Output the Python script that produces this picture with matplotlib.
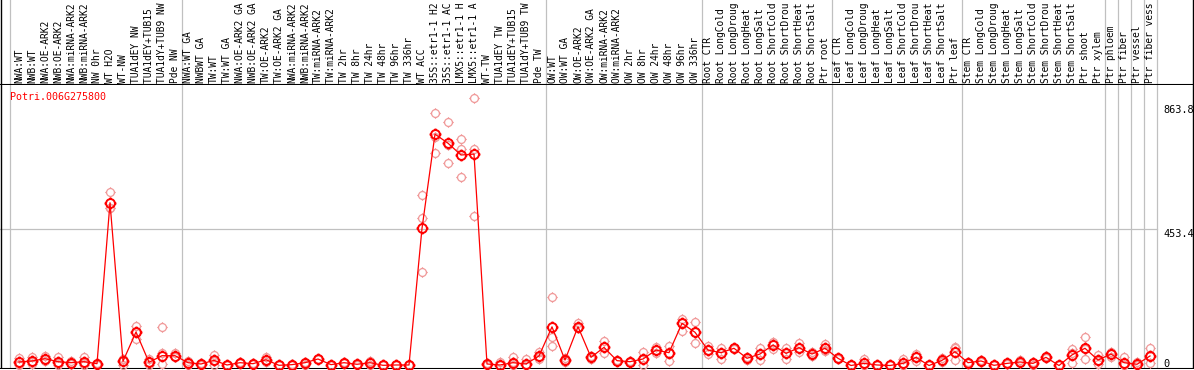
import numpy as np
import matplotlib.pyplot as plt
from matplotlib.path import Path

gene = 'Potri.006G275800'

samples = ['NWA:WT', 'NWB:WT', 'NWA:OE-ARK2', 'NWB:OE-ARK2', 'NWA:miRNA-ARK2',
           'NWB:miRNA-ARK2', 'NW 0hr', 'WT H2O', 'WT-NW', 'TUA1dEY NW',
           'TUA1dEY+TUB15 NW', 'TUA1dY+TUB9 NW', 'Pde NW',
           'NWA:WT GA', 'NWBWT GA', 'TW:WT', 'TW:WT GA', 'NWA:OE-ARK2 GA',
           'NWB:OE-ARK2 GA', 'TW:OE-ARK2', 'TW:OE-ARK2 GA', 'NWA:miRNA-ARK2 GA',
           'NWB:miRNA-ARK2 GA', 'TW:miRNA-ARK2', 'TW:miRNA-ARK2 GA', 'TW 2hr',
           'TW 8hr', 'TW 24hr', 'TW 48hr', 'TW 96hr', 'TW 336hr', 'WT ACC',
           '35S::etr1-1 H2O', '35S::etr1-1 ACC', 'LMX5::etr1-1 H2O',
           'LMX5::etr1-1 ACC', 'WT-TW', 'TUA1dEY TW', 'TUA1dEY+TUB15 TW',
           'TUA1dY+TUB9 TW', 'Pde TW',
           'OW:WT', 'OW:WT GA', 'OW:OE-ARK2', 'OW:OE-ARK2 GA', 'OW:miRNA-ARK2',
           'OW:miRNA-ARK2 GA', 'OW 2hr', 'OW 8hr', 'OW 24hr', 'OW 48hr',
           'OW 96hr', 'OW 336hr',
           'Root CTR', 'Root LongCold', 'Root LongDrought', 'Root LongHeat',
           'Root LongSalt', 'Root ShortCold', 'Root ShortDrought',
           'Root ShortHeat', 'Root ShortSalt', 'Ptr root',
           'Leaf CTR', 'Leaf LongCold', 'Leaf LongDrought', 'Leaf LongHeat',
           'Leaf LongSalt', 'Leaf ShortCold', 'Leaf ShortDrought',
           'Leaf ShortHeat', 'Leaf ShortSalt', 'Ptr leaf',
           'Stem CTR', 'Stem LongCold', 'Stem LongDrought', 'Stem LongHeat',
           'Stem LongSalt', 'Stem ShortCold', 'Stem ShortDrought',
           'Stem ShortHeat', 'Stem ShortSalt', 'Ptr shoot', 'Ptr xylem',
           'Ptr phloem', 'Ptr fiber', 'Ptr vessel', 'Ptr fiber vessel']

means = [11.6, 15, 22.6, 12.6, 9.3, 12.6, 6, 539, 14, 111,
         10.6, 32.5, 32.5, 9.3, 5, 17, 1.7, 9.3, 6, 19,
         0.6, 2.8, 9.3, 21.5, 2.8, 9.3, 4, 9.3, 0.6, 1.7,
         1.7, 454, 766, 736, 697, 700, 5, 1.7, 9.3, 5,
         31.5, 128, 18, 128.5, 27, 60, 16, 12.6, 21.5, 51,
         42.5, 139.7, 110, 51, 42.5, 57, 23.8, 38, 68, 40,
         59, 38, 57, 23.8, 0, 7, 1.7, 0, 7, 27,
         0, 17, 45.7, 9.3, 15, 0.6, 7, 11.6, 7, 27,
         0, 35, 57, 18, 38, 9.3, 4, 31.5]

reps = [[25, 6, 2], [28, 12, 5], [32, 21, 15], [29, 9, 0], [14, 9, 4],
        [29, 9, 0], [9, 6, 3], [575, 522, 520], [22, 20, 0], [131, 111, 89],
        [21, 10, 1], [127, 42, 5], [41, 29, 28], [15, 9, 3], [7, 5, 3],
        [34, 16, 2], [3, 1, 1], [11, 9, 8], [8, 6, 4], [29, 19, 13],
        [1, 0.5, 0.3], [4, 3, 1], [13, 9, 2], [23, 21, 20], [3, 3, 2],
        [11, 9, 8], [5, 4, 3], [16, 10, 2], [1, 0.5, 0.3], [3, 1, 1],
        [3, 1, 1], [565, 489, 309], [835, 758, 703], [807, 730, 670],
        [749, 716, 625], [885, 716, 495], [7, 5, 0], [13, 1, 0], [29, 12, 0],
        [22, 3, 0], [46, 28, 20], [226, 93, 65], [24, 18, 13], [140, 128, 123],
        [32, 28, 21], [81, 60, 40], [18, 16, 14], [14, 12, 11], [46, 21, 0],
        [62, 51, 40], [66, 43, 15], [153, 140, 115], [144, 110, 76],
        [65, 51, 38], [59, 43, 21], [59, 57, 55], [29, 24, 18], [59, 38, 18],
        [79, 70, 55], [59, 40, 21], [75, 58, 46], [44, 38, 32], [71, 52, 49],
        [26, 24, 22], [1, 0, 0], [20, 1, 0], [3, 1, 1], [1, 0, 0], [20, 1, 0],
        [38, 27, 16], [1, 0, 0], [24, 15, 12], [59, 61, 17], [11, 9, 8],
        [17, 15, 13], [1, 1, 0], [9, 7, 5], [18, 10, 7], [13, 7, 2],
        [30, 27, 24], [1, 0, 0], [54, 42, 9], [95, 55, 22], [35, 15, 4],
        [46, 38, 29], [28, 0, 0], [12, 0, 0], [57, 31, 7]]

# last sample index of each group (grey separators drawn after them)
group_ends = [13, 41, 53, 63, 73, 84, 85, 86, 87, 88]
y_ticks = [0, 453.4, 863.8]

W, H = 1194, 370
fig = plt.figure(figsize=(W / 100, H / 100), dpi=100)
mono = 'DejaVu Sans Mono'

# pixel layout: sample i sits at x = 6 + 13*i px
xlim = (-6 / 13, (W - 6) / 13)
ax = fig.add_axes([0, 1 / H, 1, (369 - 85) / H])
axh = fig.add_axes([0, (H - 85) / H, 1, 85 / H])
for a in (ax, axh):
    a.set_xlim(*xlim)
    a.set_axis_off()
ax.set_ylim(-11.6, 928.8)
axh.set_ylim(0, 1)

x = np.arange(1, len(samples) + 1)

# grey separators
grid_c = '#c0c0c0'
seps = [0.3] + [e + 0.5 for e in group_ends]
for s in seps:
    ax.axvline(s, color=grid_c, lw=0.9, zorder=0)
    axh.axvline(s, color=grid_c, lw=0.9, zorder=0)
ax.plot([xlim[0], group_ends[-1] + 0.5], [y_ticks[1]] * 2, color=grid_c, lw=0.9, zorder=0)

# borders
ax.axhline(-11.6, color='black', lw=1.5)
axh.axhline(0, color='black', lw=1.5)
for a in (ax, axh):
    a.axvline((1 - 6) / 13, color='black', lw=1)
    a.axvline((1193 - 6) / 13, color='black', lw=1)

# marker: circle with four small ticks
circ = Path.unit_circle()
tk = 1.35
tick_path = Path([(0, 1), (0, tk), (0, -1), (0, -tk), (1, 0), (tk, 0), (-1, 0), (-tk, 0)],
                 [Path.MOVETO, Path.LINETO] * 4)
mk = Path.make_compound_path(circ, tick_path)

rx = np.repeat(x, [len(r) for r in reps])
ry = np.concatenate([np.asarray(r, float) for r in reps])
ax.plot(rx, ry, linestyle='none', marker=mk, markersize=7.6, mfc='none',
        mec='#f09a9a', mew=0.9, zorder=2)
ax.plot(x, means, color='red', lw=0.9, zorder=3)
ax.plot(x, means, linestyle='none', marker=mk, markersize=8.6, mfc='none',
        mec='red', mew=1.4, zorder=4)

# header labels, cut to 14 characters like the original
for xi, lab in zip(x, samples):
    axh.text(xi, 2 / 85, lab[:14], rotation=90, ha='center', va='bottom',
             family=mono, fontsize=6.9, color='black')

ax.text(0.31, 0.958, gene, transform=ax.get_xaxis_transform(), color='red',
        family=mono, fontsize=7.2, va='center', ha='left')

# y value labels on the right
lab_x = (1163 - 6) / 13
for v in y_ticks:
    ax.text(lab_x, max(v, 22), f'{v:g}', family=mono, fontsize=7.4,
            va='top', ha='left', color='black')

fig.savefig('out.png', dpi=100)
